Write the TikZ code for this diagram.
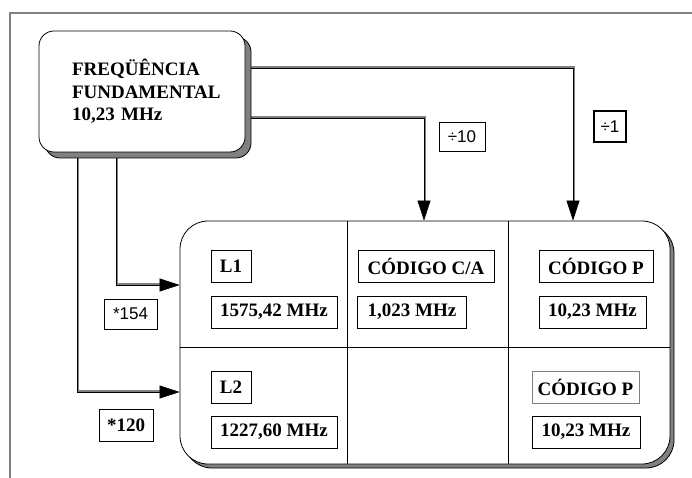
\documentclass[tikz,border=0pt]{standalone}
\usepackage{fontspec}
\setmainfont{Liberation Serif}
\newfontfamily\labelsans{Liberation Sans}
\usepackage{tikz}
\usetikzlibrary{arrows.meta,shadows,backgrounds}

\tikzset{
  tag/.style={draw, line width=1pt, inner sep=0pt, font=\fontsize{19}{22}\selectfont\bfseries},
  ratio/.style={draw, line width=0.7pt, inner sep=0pt, font=\labelsans\fontsize{17}{20}\selectfont},
  feedbody/.style={draw=gray, line width=2.6pt, shorten >=16pt, transform canvas={xshift=1pt, yshift=1pt}},
  feedcore/.style={draw=black, line width=0.6pt, -{Triangle[length=20pt, width=13pt]}},
}
\newcommand{\feedline}[1]{\draw[feedbody] #1; \draw[feedcore] #1;}

\begin{document}
\begin{tikzpicture}[x=1pt, y=-1pt]
  \useasboundingbox (0,0) rectangle (692,478);
  % page frame
  \draw[gray, line width=1.5pt] (10,478) -- (10,13) -- (692,13);

  % source oscillator
  \node[draw, line width=0.8pt, fill=white, rounded corners=15pt,
        minimum width=206pt, minimum height=121pt, text width=140pt, inner xsep=33pt,
        align=left, font=\fontsize{19}{22.5}\selectfont\bfseries,
        drop shadow={shadow xshift=6pt, shadow yshift=-6pt, fill=gray, draw=black, opacity=1}]
        (freq) at (142,91.5) {FREQÜÊNCIA\\FUNDAMENTAL\\10,23 MHz};

  % signal block
  \node[draw, line width=0.8pt, fill=white, rounded corners=28pt,
        minimum width=490pt, minimum height=243pt,
        drop shadow={shadow xshift=4pt, shadow yshift=-4pt, fill=gray, draw=black, opacity=1}]
        (sat) at (425,342.5) {};
  \draw[line width=0.6pt] (sat.north -| 347,0) -- (sat.south -| 347,0);
  \draw[line width=0.6pt] (sat.north -| 508,0) -- (sat.south -| 508,0);
  \draw[line width=0.6pt] (sat.west |- 0,347) -- (sat.east |- 0,347);

  \node[tag, minimum width=40pt, minimum height=32pt] (l1) at (231,266) {L1};
  \node[tag, minimum width=126pt, minimum height=32pt] (l1f) at (274,312) {1575,42 MHz};
  \node[tag, minimum width=136pt, minimum height=32pt] (ca) at (426,266) {CÓDIGO C/A};
  \node[tag, minimum width=109pt, minimum height=32pt] (caf) at (412,312) {1,023 MHz};
  \node[tag, minimum width=114pt, minimum height=32pt] (p1) at (596,266) {CÓDIGO P};
  \node[tag, minimum width=107pt, minimum height=32pt] (p1f) at (592.5,312) {10,23 MHz};
  \node[tag, minimum width=40pt, minimum height=32pt] (l2) at (231,387) {L2};
  \node[tag, minimum width=126pt, minimum height=32pt] (l2f) at (274,432) {1227,60 MHz};
  \node[tag, draw=gray, line width=0.6pt, minimum width=107pt, minimum height=32pt] (p2) at (585.5,387) {CÓDIGO P};
  \node[tag, minimum width=108pt, minimum height=32pt] (p2f) at (586,432) {10,23 MHz};

  % ratios
  \node[ratio, minimum width=46pt, minimum height=29pt] (div10) at (462,136.5) {÷10};
  \node[ratio, line width=1.3pt, minimum width=32pt, minimum height=31pt] (div1) at (610,126.5) {÷1};
  \node[ratio, minimum width=53pt, minimum height=30pt] (mul154) at (130.5,314) {*154};
  \node[ratio, font=\fontsize{19}{22}\selectfont\bfseries, minimum width=54pt, minimum height=32pt] (mul120) at (126,425) {*120};

  % feeds
  \begin{scope}[on background layer]
    \feedline{(freq.east |- 0,68) -- (573,68) -- (573,0 |- sat.north)}
    \feedline{(freq.east |- 0,118) -- (424,118) -- (424,0 |- sat.north)}
    \feedline{(116,0 |- freq.south) -- (116,285) -- (sat.west |- 0,285)}
    \feedline{(77,0 |- freq.south) -- (77,392) -- (sat.west |- 0,392)}
  \end{scope}
\end{tikzpicture}
\end{document}
